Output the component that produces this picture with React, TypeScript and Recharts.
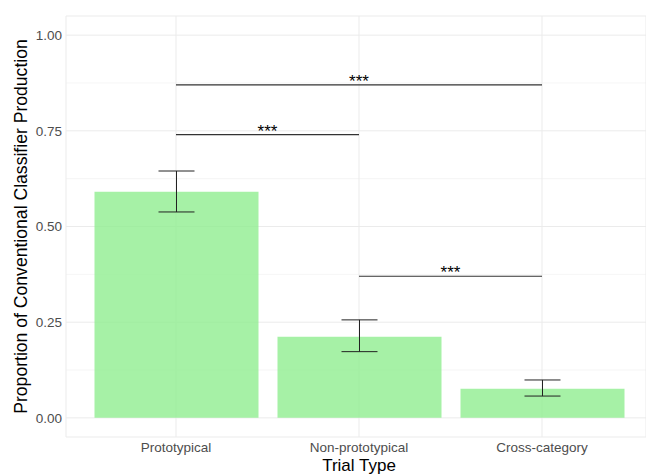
import React from 'react';
import {
  BarChart,
  Bar,
  XAxis,
  YAxis,
  CartesianGrid,
  ErrorBar,
  ReferenceLine,
} from 'recharts';

const categories = ['Prototypical', 'Non-prototypical', 'Cross-category'];
const means = [0.591, 0.212, 0.076];
const lowers = [0.538, 0.173, 0.057];
const uppers = [0.645, 0.256, 0.099];

const yTicks = [0, 0.25, 0.5, 0.75, 1];
const yMinor = [0.125, 0.375, 0.625, 0.875];

// significance brackets
const brackets = [
  { from: 'Prototypical', to: 'Cross-category', y: 0.87, text: '***' },
  { from: 'Prototypical', to: 'Non-prototypical', y: 0.74, text: '***' },
  { from: 'Non-prototypical', to: 'Cross-category', y: 0.37, text: '***' },
];

const data = categories.map((c, i) => ({
  type: c,
  value: means[i],
  err: [means[i] - lowers[i], uppers[i] - means[i]],
}));

const FONT = '"Liberation Sans", Arial, Helvetica, sans-serif';

const App: React.FC = () => {
  return (
    <div style={{ position: 'absolute', left: 0, top: 0, background: '#fff', fontFamily: FONT }}>
      <BarChart
        width={646}
        height={476}
        data={data}
        margin={{ top: 16, right: 0, bottom: 0, left: 0 }}
      >
        <CartesianGrid
          horizontalValues={yMinor}
          vertical={false}
          stroke="#f2f2f2"
          strokeWidth={0.8}
        />
        <CartesianGrid stroke="#ebebeb" strokeWidth={1} />
        <XAxis
          dataKey="type"
          height={39}
          padding={{ left: 18.5, right: 12.5 }}
          axisLine={false}
          tickLine={false}
          tickSize={0}
          tickMargin={5}
          tick={{ fill: '#4d4d4d', fontSize: 13.5, fontFamily: FONT }}
          label={{
            value: 'Trial Type',
            position: 'insideBottom',
            offset: 5,
            dx: 3,
            style: { fill: '#000', fontSize: 17, fontFamily: FONT },
          }}
        />
        <YAxis
          width={66}
          domain={[-0.05, 1.05]}
          ticks={yTicks}
          allowDataOverflow
          axisLine={false}
          tickLine={false}
          tickSize={0}
          tickMargin={4}
          tickFormatter={(v: number) => v.toFixed(2)}
          tick={{ fill: '#4d4d4d', fontSize: 13.5, fontFamily: FONT }}
          label={{
            value: 'Proportion of Conventional Classifier Production',
            angle: -90,
            position: 'insideLeft',
            offset: 21,
            style: { fill: '#000', fontSize: 17.6, fontFamily: FONT, textAnchor: 'middle' },
          }}
        />
        <Bar
          dataKey="value"
          fill="#90EE90"
          fillOpacity={0.8}
          barSize={164}
          isAnimationActive={false}
        >
          <ErrorBar dataKey="err" width={18} stroke="#222" strokeWidth={1} isAnimationActive={false} />
        </Bar>
        {brackets.map((b, i) => (
          <ReferenceLine
            key={i}
            segment={[
              { x: b.from, y: b.y },
              { x: b.to, y: b.y },
            ]}
            stroke="#333"
            strokeWidth={1.1}
            label={{
              value: b.text,
              position: 'top',
              offset: -2,
              style: { fill: '#000', fontSize: 17, fontFamily: FONT },
            }}
          />
        ))}
      </BarChart>
    </div>
  );
};

export default App;
